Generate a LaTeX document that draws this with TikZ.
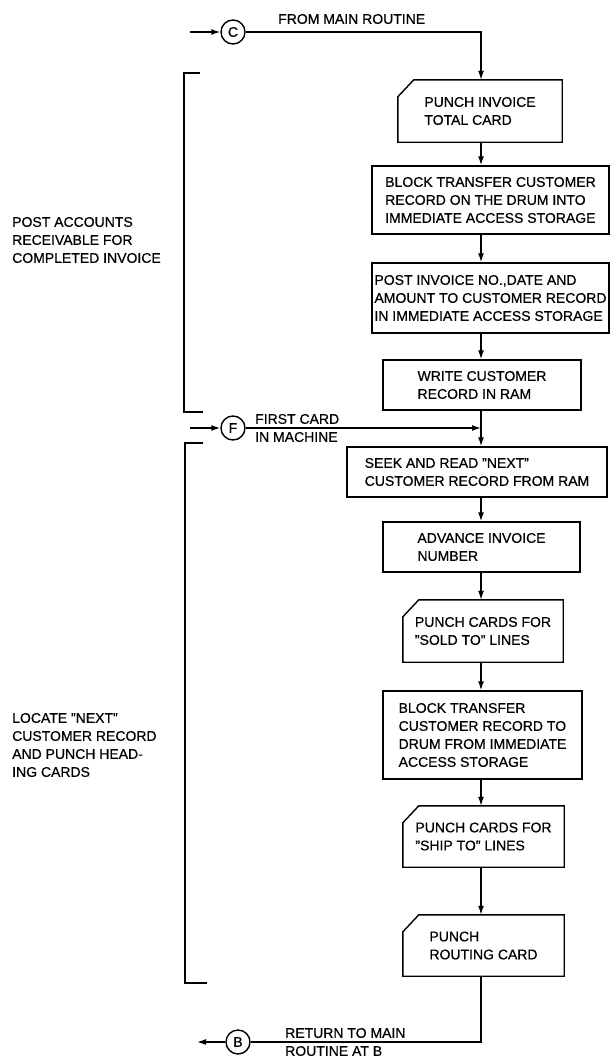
\documentclass[tikz,border=0pt]{standalone}
\usepackage{fontspec}
\setmainfont{Liberation Sans}[FakeBold=0.6]
\usetikzlibrary{arrows.meta}
\newcommand\dq{\symbol{34}}
\newcommand\cardframe[1]{%
  \draw[line] ([yshift=-17pt]#1.north west) -- ([xshift=16pt]#1.north west) -- (#1.north east) -- (#1.south east) -- (#1.south west) -- cycle;}
\begin{document}
\begin{tikzpicture}[x=1pt,y=-1pt,
  every node/.style={font=\fontsize{14}{18}\selectfont},
  box/.style={draw, line width=1.4pt, align=left, inner sep=0pt},
  card/.style={align=left, inner sep=0pt},
  conn/.style={draw, circle, line width=1.4pt, minimum size=24pt, inner sep=0pt},
  line/.style={line width=1.4pt},
  flow/.style={line width=1.4pt, -{Latex[length=9pt,width=6pt]}},
  lbl/.style={align=left, inner sep=0pt, anchor=west}]
\useasboundingbox (0,0) rectangle (612,1060);

% spine
\coordinate (sp) at (481,0);

% connectors (circles)
\node[conn] (C) at (233,32) {C};
\node[conn] (F) at (233,428) {F};
\node[conn] (B) at (238,1042) {B};

% boxes
\node[card, minimum width=164pt, minimum height=62pt] (b1) at (480,111) {PUNCH INVOICE\\TOTAL CARD};
\cardframe{b1}
\node[box, minimum width=237pt, minimum height=68pt] (b2) at (490.5,200) {BLOCK TRANSFER CUSTOMER\\RECORD ON THE DRUM INTO\\IMMEDIATE ACCESS STORAGE};
\node[box, minimum width=237pt, minimum height=70pt] (b3) at (490.5,298) {POST INVOICE NO.,DATE AND\\AMOUNT TO CUSTOMER RECORD\\IN IMMEDIATE ACCESS STORAGE};
\node[box, minimum width=198pt, minimum height=50pt] (b4) at (482,385) {WRITE CUSTOMER\\RECORD IN RAM};
\node[box, minimum width=260pt, minimum height=50pt] (b5) at (477,472) {SEEK AND READ \dq NEXT\dq\\CUSTOMER RECORD FROM RAM};
\node[box, minimum width=197pt, minimum height=50pt] (b6) at (481.5,547) {ADVANCE INVOICE\\NUMBER};
\node[card, minimum width=160pt, minimum height=62pt] (b7) at (483,631) {PUNCH CARDS FOR\\\dq SOLD TO\dq\ LINES};
\cardframe{b7}
\node[box, minimum width=199pt, minimum height=88pt] (b8) at (482.5,735) {BLOCK TRANSFER\\CUSTOMER RECORD TO\\DRUM FROM IMMEDIATE\\ACCESS STORAGE};
\node[card, minimum width=161pt, minimum height=61pt] (b9) at (483.5,836.5) {PUNCH CARDS FOR\\\dq SHIP TO\dq\ LINES};
\cardframe{b9}
\node[card, minimum width=161pt, minimum height=61pt] (b10) at (483.5,945.5) {PUNCH\\ROUTING CARD};
\cardframe{b10}

% labels
\node[lbl] (tC) at (278,19) {FROM MAIN ROUTINE};
\node[lbl] (tF) at (255,428) {FIRST CARD\\IN MACHINE};
\node[lbl] (tB) at (285,1042) {RETURN TO MAIN\\ROUTINE AT B};
\node[lbl] (l1) at (12,240) {POST ACCOUNTS\\RECEIVABLE FOR\\COMPLETED INVOICE};
\node[lbl] (l2) at (12,745) {LOCATE \dq NEXT\dq\\CUSTOMER RECORD\\AND PUNCH HEAD-\\ING CARDS};

% brackets
\draw[line] (200,73) -- (184,73) -- (184,412) -- (203,412);
\draw[line] (203,443) -- (185,443) -- (185,983) -- (207,983);

% flow
\coordinate (cin) at (190,32);
\coordinate (fin) at (190,428);
\coordinate (bout) at (197,1042);
\draw[flow] (cin) -- (C.west);
\draw[flow] (fin) -- (F.west);
\draw[flow] (B.west) -- (bout);
\draw[flow] (C.east) -- (C.east -| sp) -- (b1.north -| sp);
\draw[flow] (b1.south -| sp) -- (b2.north -| sp);
\draw[flow] (b2.south -| sp) -- (b3.north -| sp);
\draw[flow] (b3.south -| sp) -- (b4.north -| sp);
\draw[flow] (b4.south -| sp) -- (b5.north -| sp);
\draw[flow] (F.east) -- (F.east -| sp);
\draw[flow] (b5.south -| sp) -- (b6.north -| sp);
\draw[flow] (b6.south -| sp) -- (b7.north -| sp);
\draw[flow] (b7.south -| sp) -- (b8.north -| sp);
\draw[flow] (b8.south -| sp) -- (b9.north -| sp);
\draw[flow] (b9.south -| sp) -- (b10.north -| sp);
\draw[line] (b10.south -| sp) -- (B.east -| sp) -- (B.east);
\end{tikzpicture}
\end{document}
